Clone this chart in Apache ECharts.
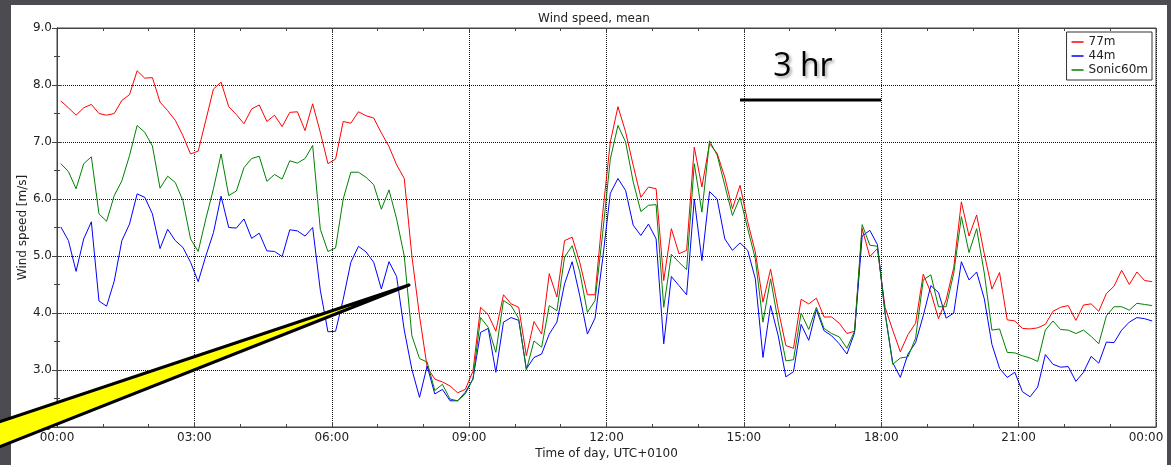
<!DOCTYPE html>
<html lang="en">
<head>
<meta charset="UTF-8">
<title>Wind speed, mean</title>
<script src="https://cdn.jsdelivr.net/npm/echarts@6/dist/echarts.min.js"></script>
<style>
    html, body { margin: 0; padding: 0; background: #4b4b50; overflow: hidden; }
    #panel { position: absolute; left: 11px; top: 5px; width: 1156px; height: 460px; background: #fff; }
    #main { position: absolute; left: 0; top: 0; width: 1171px; height: 465px; }
</style>
</head>
<body>
<div id="panel"></div>
<div id="main"></div>
<script>
// 10-minute means, first sample centred at 00:05
var firstHour = 5 / 60;
var stepHour = 10 / 60;
var xTicks = ['00:00', '03:00', '06:00', '09:00', '12:00', '15:00', '18:00', '21:00', '00:00'];
var seriesNames = ['77m', '44m', 'Sonic60m'];

var speed77 = [
    7.72, 7.60, 7.47, 7.60, 7.66, 7.50, 7.47, 7.50, 7.73, 7.83, 8.25, 8.12,
    8.13, 7.70, 7.55, 7.38, 7.11, 6.79, 6.84, 7.38, 7.93, 8.05, 7.62, 7.48,
    7.32, 7.58, 7.65, 7.36, 7.47, 7.27, 7.52, 7.53, 7.20, 7.67, 7.17, 6.62,
    6.70, 7.36, 7.33, 7.53, 7.46, 7.42, 7.16, 6.92, 6.60, 6.36, 5.00, 3.95,
    3.05, 2.84, 2.79, 2.72, 2.60, 2.66, 2.98, 4.10, 3.97, 3.68, 4.32, 4.16,
    4.10, 3.25, 3.85, 3.63, 4.69, 4.28, 5.27, 5.33, 4.89, 4.32, 4.32, 5.75,
    7.00, 7.62, 7.18, 6.59, 6.03, 6.21, 6.18, 4.57, 5.48, 5.04, 5.10, 6.91,
    6.21, 6.97, 6.80, 6.38, 5.83, 6.24, 5.60, 5.07, 4.19, 4.77, 4.06, 3.43,
    3.38, 4.24, 4.16, 4.26, 3.93, 3.93, 3.82, 3.64, 3.68, 5.48, 4.99, 5.13,
    4.10, 3.70, 3.32, 3.62, 3.82, 4.68, 4.36, 3.90, 4.23, 4.80, 5.95, 5.35,
    5.72, 5.04, 4.42, 4.71, 3.88, 3.86, 3.73, 3.72, 3.74, 3.80, 4.03, 4.10,
    4.13, 3.87, 4.14, 4.16, 4.03, 4.34, 4.47, 4.75, 4.50, 4.72, 4.57, 4.55
];
var speed44 = [
    5.51, 5.27, 4.73, 5.30, 5.60, 4.21, 4.12, 4.56, 5.27, 5.56, 6.09, 6.03,
    5.74, 5.13, 5.47, 5.27, 5.15, 4.89, 4.55, 5.00, 5.41, 6.05, 5.50, 5.49,
    5.65, 5.31, 5.40, 5.09, 5.08, 4.99, 5.46, 5.44, 5.35, 5.50, 4.40, 3.67,
    3.68, 4.24, 4.89, 5.17, 5.07, 4.89, 4.42, 4.90, 4.64, 3.70, 3.01, 2.52,
    3.07, 2.58, 2.66, 2.46, 2.46, 2.61, 2.84, 3.66, 3.73, 2.96, 3.84, 3.92,
    3.87, 3.02, 3.22, 3.28, 3.63, 3.84, 4.51, 4.90, 4.30, 3.63, 3.91, 4.95,
    6.10, 6.36, 6.15, 5.54, 5.36, 5.56, 5.30, 3.46, 4.64, 4.48, 4.32, 6.00,
    4.92, 6.13, 6.00, 5.30, 5.10, 5.23, 5.10, 4.60, 3.22, 4.13, 3.60, 2.88,
    2.97, 3.80, 3.52, 4.06, 3.69, 3.60, 3.46, 3.28, 3.65, 5.35, 5.45, 5.20,
    4.00, 3.13, 2.87, 3.28, 3.48, 3.95, 4.48, 4.36, 3.91, 4.00, 4.90, 4.58,
    4.72, 4.25, 3.45, 3.03, 2.87, 2.96, 2.62, 2.53, 2.70, 3.27, 3.10, 3.05,
    3.06, 2.80, 2.96, 3.24, 3.12, 3.49, 3.48, 3.70, 3.84, 3.92, 3.90, 3.86
];
var sonic60 = [
    6.62, 6.48, 6.18, 6.62, 6.74, 5.74, 5.61, 6.06, 6.32, 6.76, 7.29, 7.17,
    6.93, 6.19, 6.40, 6.29, 5.97, 5.30, 5.08, 5.65, 6.18, 6.79, 6.06, 6.14,
    6.55, 6.71, 6.75, 6.31, 6.43, 6.35, 6.67, 6.63, 6.71, 6.94, 5.47, 5.08,
    5.14, 6.00, 6.47, 6.47, 6.38, 6.25, 5.82, 6.16, 5.65, 5.00, 3.60, 3.20,
    3.14, 2.64, 2.75, 2.49, 2.46, 2.58, 2.84, 3.92, 3.75, 3.31, 4.22, 4.13,
    3.90, 3.00, 3.51, 3.40, 4.13, 4.04, 4.98, 5.18, 4.72, 4.01, 4.22, 5.40,
    6.70, 7.29, 7.00, 6.30, 5.78, 5.89, 5.90, 4.10, 5.03, 4.89, 4.76, 6.62,
    5.77, 7.02, 6.77, 6.24, 5.71, 6.03, 5.48, 4.95, 3.84, 4.60, 3.84, 3.16,
    3.18, 4.00, 3.71, 4.10, 3.73, 3.64, 3.58, 3.38, 3.68, 5.55, 5.19, 5.17,
    4.00, 3.10, 3.21, 3.23, 3.56, 4.58, 4.67, 4.11, 4.11, 4.70, 5.69, 5.06,
    5.48, 4.70, 3.70, 3.72, 3.31, 3.30, 3.25, 3.21, 3.15, 3.70, 3.86, 3.71,
    3.70, 3.64, 3.70, 3.59, 3.46, 3.95, 4.11, 4.11, 4.05, 4.17, 4.15, 4.13
];

function pairs(values) {
    return values.map(function (v, i) { return [firstHour + i * stepHour, v]; });
}

var axisColor = '#444';
var textColor = '#222';
var font = 'DejaVu Sans';

var myChart = echarts.init(document.getElementById('main'), null, {renderer: 'canvas'});

var tickStyle = {inside: true, length: 5, lineStyle: {color: axisColor}};

var option = {
    animation: false,
    backgroundColor: 'transparent',
    textStyle: {fontFamily: font},
    title: {
        text: 'Wind speed, mean', left: 589, top: 8, textAlign: 'center',
        textStyle: {fontSize: 12, fontWeight: 'normal', color: textColor, fontFamily: font}
    },
    legend: {
        orient: 'vertical', right: 19, top: 32,
        backgroundColor: '#fff', borderColor: '#333', borderWidth: 1,
        padding: [4, 4, 4, 5], itemGap: 2, itemWidth: 12, itemHeight: 1.5, icon: 'rect',
        textStyle: {fontSize: 12, color: textColor, fontFamily: font},
        data: seriesNames
    },
    grid: {left: 57, right: 15, top: 28, bottom: 38, show: true, borderColor: axisColor, borderWidth: 1},
    xAxis: [{
        type: 'value', position: 'bottom', min: 0, max: 24, interval: 3,
        axisLine: {show: true, lineStyle: {color: axisColor}},
        axisTick: tickStyle,
        minorTick: {show: true, splitNumber: 3, length: 3, lineStyle: {color: axisColor}},
        splitLine: {show: true, lineStyle: {type: 'dotted', color: '#111'}},
        axisLabel: {
            fontSize: 12, color: textColor, margin: 5,
            formatter: function (v) {
                var s = xTicks[Math.round(v / 3)];
                return v === 24 ? '{last|' + s + '}' : s;
            },
            rich: {last: {fontSize: 12, color: textColor, fontFamily: font, padding: [0, 20, 0, 0]}}
        },
        name: 'Time of day, UTC+0100', nameLocation: 'middle', nameGap: 21, nameMoveOverlap: false,
        nameTextStyle: {fontSize: 12, color: textColor}
    }, {
        type: 'value', position: 'top', min: 0, max: 24, interval: 3,
        axisLine: {show: true, lineStyle: {color: axisColor}},
        axisTick: tickStyle,
        minorTick: {show: true, splitNumber: 3, length: 3, lineStyle: {color: axisColor}},
        axisLabel: {show: false}, splitLine: {show: false}
    }],
    yAxis: [{
        type: 'value', position: 'left', min: 2, max: 9, interval: 1,
        axisLine: {show: true, lineStyle: {color: axisColor}},
        axisTick: tickStyle,
        minorTick: {show: true, splitNumber: 2, length: 3, lineStyle: {color: axisColor}},
        splitLine: {show: true, lineStyle: {type: 'dotted', color: '#111'}},
        axisLabel: {fontSize: 12, color: textColor, margin: 5, formatter: function (v) { return v.toFixed(1); }},
        name: 'Wind speed [m/s]', nameLocation: 'middle', nameGap: 28, nameRotate: 90, nameMoveOverlap: false,
        nameTextStyle: {fontSize: 12, color: textColor}
    }, {
        type: 'value', position: 'right', min: 2, max: 9, interval: 1,
        axisLine: {show: true, lineStyle: {color: axisColor}},
        axisTick: tickStyle,
        minorTick: {show: true, splitNumber: 2, length: 3, lineStyle: {color: axisColor}},
        axisLabel: {show: false}, splitLine: {show: false}
    }],
    series: [
        {name: seriesNames[0], type: 'line', symbol: 'none', color: '#ff0000', lineStyle: {width: 1}, data: pairs(speed77)},
        {name: seriesNames[1], type: 'line', symbol: 'none', color: '#0000ff', lineStyle: {width: 1}, data: pairs(speed44)},
        {name: seriesNames[2], type: 'line', symbol: 'none', color: '#008000', lineStyle: {width: 1}, data: pairs(sonic60)}
    ],
    graphic: [
        {   // 3 hour scale bar
            type: 'line', z: 100,
            shape: {x1: 740, y1: 100, x2: 881, y2: 100},
            style: {stroke: '#000', lineWidth: 3}
        },
        {
            type: 'text', z: 100, x: 803, y: 67,
            style: {
                text: '3 hr', font: '32px "Open Sans"', fill: '#000',
                align: 'center', verticalAlign: 'middle', textAlign: 'center', textVerticalAlign: 'middle',
                textShadowColor: 'rgba(0,0,0,0.35)', textShadowBlur: 3, textShadowOffsetX: 2, textShadowOffsetY: 2
            }
        },
        {   // yellow pointer
            type: 'polygon', z: 100,
            shape: {points: [[-6, 423.7], [409, 285], [-6, 448.9]]},
            style: {fill: '#ffff00', stroke: '#000', lineWidth: 3, lineJoin: 'round'}
        }
    ]
};

myChart.setOption(option);
</script>
</body>
</html>
